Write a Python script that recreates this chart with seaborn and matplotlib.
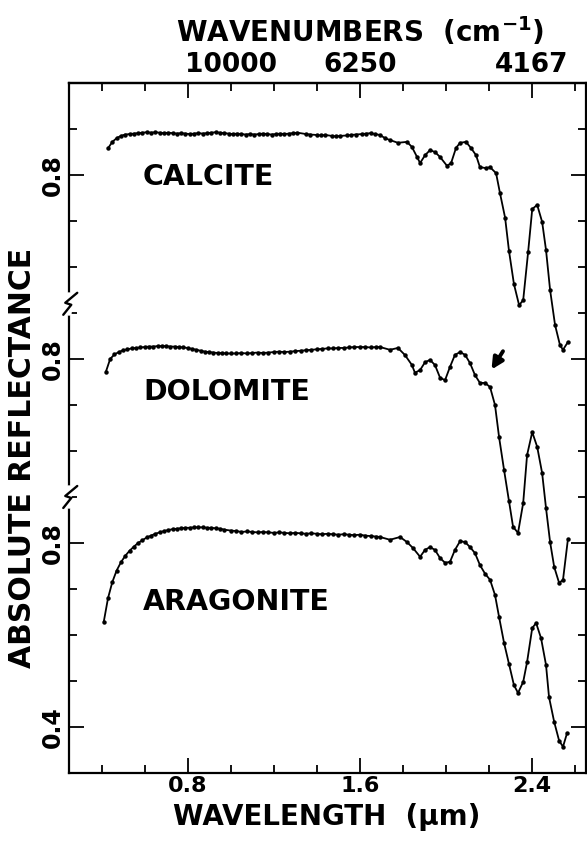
import numpy as np
import pandas as pd
import matplotlib
matplotlib.use("Agg")
import matplotlib.pyplot as plt
import seaborn as sns
from matplotlib.ticker import MultipleLocator, FixedLocator

# wavelength (um) and absolute reflectance
calcite_wl = [0.43, 0.45, 0.47, 0.49, 0.51, 0.53, 0.55, 0.57, 0.59, 0.61, 0.63, 0.65, 0.67, 0.69,
              0.71, 0.73, 0.75, 0.77, 0.79, 0.81, 0.83, 0.85, 0.87, 0.89, 0.91, 0.93, 0.95, 0.97,
              0.99, 1.01, 1.03, 1.05, 1.07, 1.09, 1.11, 1.13, 1.15, 1.17, 1.19, 1.21, 1.23, 1.25,
              1.27, 1.29, 1.31, 1.35, 1.37, 1.40, 1.42, 1.44, 1.47, 1.49, 1.51, 1.54, 1.56, 1.58,
              1.61, 1.63, 1.65, 1.67, 1.694, 1.717, 1.740, 1.777, 1.819, 1.842, 1.866, 1.880,
              1.903, 1.926, 1.949, 1.973, 2.005, 2.024, 2.047, 2.066, 2.093, 2.116, 2.140, 2.158,
              2.186, 2.205, 2.233, 2.251, 2.275, 2.293, 2.316, 2.340, 2.359, 2.382, 2.401, 2.424,
              2.447, 2.465, 2.484, 2.507, 2.530, 2.544, 2.567]
calcite_r = [0.858, 0.872, 0.880, 0.885, 0.888, 0.889, 0.890, 0.891, 0.892, 0.893, 0.892, 0.893,
             0.892, 0.891, 0.892, 0.891, 0.890, 0.891, 0.890, 0.889, 0.890, 0.891, 0.890, 0.891,
             0.892, 0.893, 0.892, 0.891, 0.890, 0.889, 0.890, 0.889, 0.888, 0.889, 0.888, 0.889,
             0.890, 0.889, 0.888, 0.889, 0.890, 0.889, 0.890, 0.891, 0.892, 0.889, 0.888, 0.887,
             0.886, 0.887, 0.885, 0.884, 0.885, 0.886, 0.887, 0.888, 0.889, 0.890, 0.891, 0.889,
             0.887, 0.880, 0.876, 0.870, 0.872, 0.861, 0.839, 0.826, 0.843, 0.854, 0.850, 0.839,
             0.820, 0.826, 0.859, 0.870, 0.872, 0.859, 0.843, 0.817, 0.815, 0.817, 0.804, 0.761,
             0.707, 0.635, 0.563, 0.517, 0.528, 0.633, 0.726, 0.735, 0.698, 0.637, 0.550, 0.474,
             0.430, 0.420, 0.437]

dolomite_wl = [0.42, 0.44, 0.46, 0.48, 0.50, 0.52, 0.54, 0.56, 0.58, 0.60, 0.62, 0.64, 0.66, 0.68,
               0.70, 0.72, 0.74, 0.76, 0.78, 0.80, 0.82, 0.84, 0.86, 0.88, 0.90, 0.92, 0.94, 0.96,
               0.98, 1.00, 1.025, 1.05, 1.075, 1.10, 1.125, 1.15, 1.175, 1.20, 1.225, 1.25, 1.275,
               1.30, 1.325, 1.35, 1.375, 1.40, 1.425, 1.45, 1.475, 1.50, 1.525, 1.55, 1.575, 1.60,
               1.625, 1.65, 1.675, 1.694, 1.740, 1.777, 1.809, 1.842, 1.856, 1.880, 1.903, 1.926,
               1.949, 1.973, 1.996, 2.019, 2.042, 2.066, 2.089, 2.112, 2.135, 2.158, 2.182, 2.205,
               2.228, 2.247, 2.270, 2.293, 2.312, 2.335, 2.359, 2.377, 2.401, 2.424, 2.447, 2.465,
               2.484, 2.503, 2.526, 2.544, 2.567]
dolomite_r = [0.772, 0.800, 0.810, 0.815, 0.819, 0.821, 0.823, 0.824, 0.825, 0.826, 0.827, 0.827,
              0.828, 0.828, 0.828, 0.827, 0.827, 0.826, 0.825, 0.824, 0.822, 0.820, 0.818, 0.816,
              0.815, 0.814, 0.813, 0.813, 0.812, 0.812, 0.812, 0.813, 0.812, 0.813, 0.814, 0.813,
              0.814, 0.815, 0.816, 0.815, 0.816, 0.817, 0.818, 0.819, 0.820, 0.821, 0.822, 0.823,
              0.823, 0.824, 0.824, 0.825, 0.826, 0.826, 0.826, 0.825, 0.826, 0.826, 0.820, 0.824,
              0.809, 0.787, 0.770, 0.776, 0.793, 0.798, 0.787, 0.759, 0.754, 0.783, 0.809, 0.815,
              0.809, 0.791, 0.765, 0.748, 0.748, 0.739, 0.700, 0.630, 0.559, 0.491, 0.435, 0.422,
              0.487, 0.591, 0.641, 0.609, 0.552, 0.476, 0.402, 0.348, 0.313, 0.320, 0.409]

aragonite_wl = [0.41, 0.43, 0.45, 0.47, 0.49, 0.51, 0.53, 0.55, 0.57, 0.59, 0.61, 0.63, 0.65, 0.67,
                0.69, 0.71, 0.73, 0.75, 0.77, 0.79, 0.81, 0.83, 0.85, 0.87, 0.89, 0.91, 0.93, 0.95,
                0.97, 1.00, 1.025, 1.05, 1.075, 1.10, 1.125, 1.15, 1.175, 1.20, 1.225, 1.25, 1.275,
                1.30, 1.325, 1.35, 1.375, 1.40, 1.425, 1.45, 1.475, 1.50, 1.525, 1.55, 1.575, 1.60,
                1.625, 1.65, 1.675, 1.694, 1.740, 1.787, 1.819, 1.847, 1.880, 1.903, 1.926, 1.949,
                1.973, 1.996, 2.019, 2.042, 2.066, 2.089, 2.112, 2.135, 2.158, 2.182, 2.205, 2.228,
                2.247, 2.270, 2.293, 2.316, 2.335, 2.359, 2.377, 2.401, 2.419, 2.442, 2.465, 2.479,
                2.503, 2.526, 2.544, 2.563]
aragonite_r = [0.628, 0.680, 0.715, 0.740, 0.758, 0.772, 0.783, 0.792, 0.800, 0.806, 0.812, 0.816,
               0.820, 0.823, 0.826, 0.828, 0.830, 0.831, 0.832, 0.833, 0.833, 0.834, 0.834, 0.834,
               0.833, 0.833, 0.832, 0.831, 0.829, 0.827, 0.826, 0.824, 0.825, 0.824, 0.823, 0.824,
               0.823, 0.822, 0.823, 0.822, 0.821, 0.822, 0.821, 0.820, 0.821, 0.820, 0.819, 0.820,
               0.819, 0.818, 0.819, 0.818, 0.817, 0.818, 0.816, 0.815, 0.814, 0.813, 0.807, 0.813,
               0.802, 0.789, 0.770, 0.785, 0.791, 0.785, 0.767, 0.757, 0.759, 0.785, 0.804, 0.802,
               0.791, 0.778, 0.752, 0.733, 0.720, 0.687, 0.639, 0.583, 0.537, 0.491, 0.474, 0.498,
               0.541, 0.615, 0.626, 0.593, 0.535, 0.465, 0.411, 0.370, 0.357, 0.387]

minerals = ["CALCITE", "DOLOMITE", "ARAGONITE"]
y_ticks = [0.4, 0.8, 1.2, 1.6]
y_tick_labels = ["0.4", "0.8", "0.8", "0.8"]
x_ticks = [0.8, 1.6, 2.4]
wn_ticks = [1.0, 1.6, 2.4]
wn_labels = ["10000", "6250", "4167"]

# vertical offsets of the stacked spectra
offsets = {"CALCITE": 0.8, "DOLOMITE": 0.4, "ARAGONITE": 0.0}
spectra = {"CALCITE": (calcite_wl, calcite_r),
           "DOLOMITE": (dolomite_wl, dolomite_r),
           "ARAGONITE": (aragonite_wl, aragonite_r)}

sns.set_style("ticks")
plt.rcParams["font.family"] = ["DejaVu Sans"]
plt.rcParams["font.weight"] = "bold"
plt.rcParams["mathtext.fontset"] = "dejavusans"
plt.rcParams["mathtext.default"] = "bf"
for key in ["text.color", "axes.labelcolor", "xtick.color", "ytick.color", "axes.edgecolor"]:
    plt.rcParams[key] = "black"

fig = plt.figure(figsize=(5.87, 8.41), dpi=100)
ax = fig.add_axes([0.118, 0.0809, 0.880, 0.8204])

for name in minerals:
    wl, r = spectra[name]
    df = pd.DataFrame({"wl": wl, "y": np.array(r) + offsets[name]})
    sns.lineplot(data=df, x="wl", y="y", sort=False, color="black", lw=1.3,
                 marker="o", markersize=3.2, markeredgewidth=0, ax=ax)

ax.set_xlim(0.25, 2.65)
ax.set_ylim(0.3, 1.8)
ax.set_xlabel("")
ax.set_ylabel("")

ax.xaxis.set_major_locator(FixedLocator(x_ticks))
ax.set_xticklabels([f"{t:.1f}" for t in x_ticks])
ax.xaxis.set_minor_locator(MultipleLocator(0.2))
ax.yaxis.set_major_locator(FixedLocator(y_ticks))
ax.set_yticklabels(y_tick_labels, rotation=90, va="center")
ax.yaxis.set_minor_locator(MultipleLocator(0.1))

ax.tick_params(which="both", direction="in", top=True, right=True, width=1.3, color="black")
ax.tick_params(which="major", length=11)
ax.tick_params(which="minor", length=5.5)
ax.tick_params(axis="x", labelsize=16, pad=2.5)
ax.tick_params(axis="y", labelsize=17, pad=3)
for sp in ax.spines.values():
    sp.set_linewidth(1.6)
    sp.set_color("black")

sec = ax.secondary_xaxis("top")
sec.set_xticks(wn_ticks, labels=wn_labels)
sec.tick_params(length=0, labelsize=19, pad=3.5)
sec.spines["top"].set_linewidth(1.6)

# axis break marks on the left spine
for yb in [1.32, 0.9]:
    tr = ax.get_yaxis_transform()
    ax.plot([0, 0], [yb - 0.02, yb + 0.02], color="white", lw=4, transform=tr, clip_on=False, zorder=5)
    zx = np.array([-6, 2, -4, 8]) / 517
    zy = yb + np.array([-11, -1, 1, 11]) / 460
    ax.plot(zx, zy, color="black", lw=1.7, transform=tr, clip_on=False, zorder=6)

# mineral names
label_pos = {"CALCITE": (0.593, 1.595), "DOLOMITE": (0.593, 1.128), "ARAGONITE": (0.593, 0.672)}
for name in minerals:
    ax.text(*label_pos[name], name, fontsize=20.5, ha="left", va="center")

# arrow marking the dolomite feature
ax.annotate("", xy=(2.205, 1.172), xytext=(2.272, 1.222),
            arrowprops=dict(arrowstyle="-|>", color="black", lw=2.8, mutation_scale=17))

fig.text(23 / 587, 1 - 458 / 841, "ABSOLUTE REFLECTANCE", rotation=90, fontsize=21.5,
         ha="center", va="center")
fig.text(327 / 587, 1 - 825 / 841, "WAVELENGTH  (\u00b5m)", fontsize=20,
         ha="center", va="baseline")
fig.text(360 / 587, 1 - 42 / 841, r"WAVENUMBERS  (cm$^{-1}$)", fontsize=20,
         ha="center", va="baseline")

fig.savefig("out.png", dpi=100)
